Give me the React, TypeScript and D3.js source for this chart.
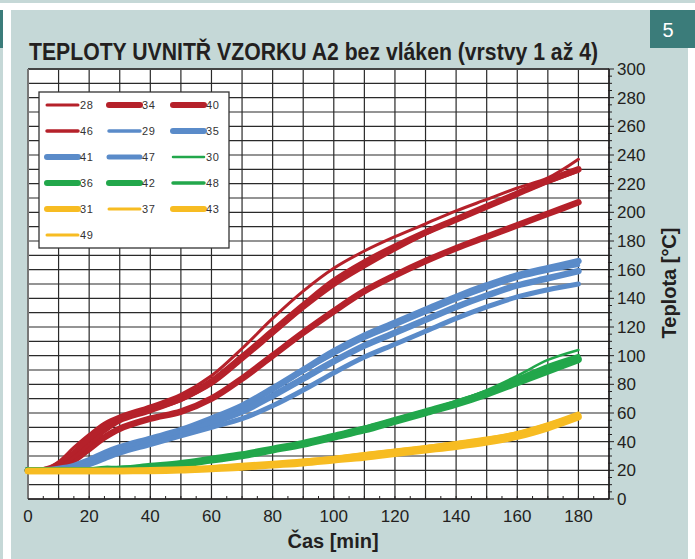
import React from "react";
import * as d3 from "d3";

// ---- data ----
const times = [0, 5, 10, 15, 20, 25, 30, 40, 50, 60, 70, 80, 90, 100, 110, 120, 130, 140, 150, 160, 170, 180];

const s28 = [20, 20, 26, 36, 45, 53, 58, 65, 73, 86, 105, 126, 145, 161, 173, 183, 192, 201, 209, 217, 224, 237];
const s34 = [20, 20, 24, 32, 42, 50, 56, 63, 70, 82, 99, 117, 135, 152, 165, 176, 186, 195, 204, 213, 222, 230];
const s40 = [20, 20, 22, 27, 35, 43, 49, 56, 61, 70, 84, 100, 116, 131, 145, 156, 166, 175, 183, 191, 199, 207];
const s46 = [20, 20, 22, 29, 38, 47, 54, 61, 69, 80, 97, 115, 133, 149, 162, 174, 185, 195, 204, 213, 221, 229];

const s29 = [20, 20, 21, 23, 27, 31, 35, 42, 48, 55, 64, 76, 89, 101, 112, 121, 130, 139, 147, 154, 159, 163];
const s35 = [20, 20, 21, 23, 27, 32, 36, 42, 48, 56, 65, 77, 90, 103, 114, 123, 132, 141, 149, 156, 161, 166];
const s41 = [20, 20, 20, 22, 25, 30, 34, 40, 46, 53, 61, 72, 84, 96, 107, 116, 125, 134, 142, 149, 154, 159];
const s47 = [20, 20, 20, 21, 24, 28, 32, 38, 44, 50, 56, 65, 76, 88, 99, 108, 117, 126, 134, 141, 146, 150];

const s30 = [20, 20, 20, 20, 20, 21, 21, 23, 25, 28, 31, 35, 40, 45, 50, 56, 62, 68, 76, 86, 97, 104];
const s36 = [20, 20, 20, 20, 20, 21, 21, 23, 25, 28, 31, 35, 39, 44, 49, 55, 61, 67, 74, 82, 90, 98];
const s42 = [20, 20, 20, 20, 20, 20, 21, 22, 24, 27, 30, 34, 38, 43, 48, 54, 60, 66, 73, 81, 89, 97];
const s48 = [20, 20, 20, 20, 20, 21, 21, 23, 25, 28, 31, 35, 39, 44, 50, 55, 61, 68, 75, 84, 93, 100];

const s31 = [19.5, 19.5, 19.5, 19.5, 19.5, 19.5, 19.5, 20, 20.5, 21.5, 23, 24.5, 26, 28, 30.5, 33, 35.5, 38, 41, 45, 51, 58];
const s37 = [19.5, 19.5, 19.5, 19.5, 19.5, 19.5, 19.5, 20, 21, 22, 23.5, 25, 27, 29, 31.5, 34, 36.5, 39.5, 42.5, 46.5, 52.5, 60];
const s43 = [19.5, 19.5, 19.5, 19.5, 19.5, 19.5, 19.5, 19.5, 20, 21, 22, 23.5, 25, 27, 29, 31.5, 34, 36.5, 39.5, 43.5, 49.5, 57];
const s49 = [19.5, 19.5, 19.5, 19.5, 19.5, 19.5, 19.5, 20, 20.5, 21.5, 22.5, 24, 25.5, 27.5, 30, 32.5, 35, 37.5, 40.5, 44.5, 50.5, 58.5];

const seriesNames = ["28", "34", "40", "46", "29", "35", "41", "47", "30", "36", "42", "48", "31", "37", "43", "49"];
const seriesValues: Record<string, number[]> = {
  "28": s28, "34": s34, "40": s40, "46": s46,
  "29": s29, "35": s35, "41": s41, "47": s47,
  "30": s30, "36": s36, "42": s42, "48": s48,
  "31": s31, "37": s37, "43": s43, "49": s49,
};

const xTicks = [0, 20, 40, 60, 80, 100, 120, 140, 160, 180];
const yTicks = [0, 20, 40, 60, 80, 100, 120, 140, 160, 180, 200, 220, 240, 260, 280, 300];

// ---- styles ----
const RED = "#b5212a";
const BLUE = "#5a8bc9";
const GREEN = "#22a74b";
const YELLOW = "#f7bc22";
const colorOf: Record<string, string> = {
  "28": RED, "34": RED, "40": RED, "46": RED,
  "29": BLUE, "35": BLUE, "41": BLUE, "47": BLUE,
  "30": GREEN, "36": GREEN, "42": GREEN, "48": GREEN,
  "31": YELLOW, "37": YELLOW, "43": YELLOW, "49": YELLOW,
};
const widthOf: Record<string, number> = {
  "28": 3, "34": 6.5, "40": 6.5, "46": 3.5,
  "29": 3.5, "35": 6.5, "41": 6.5, "47": 5,
  "30": 2.5, "36": 6.5, "42": 6.5, "48": 3.5,
  "31": 6.5, "37": 3, "43": 6.5, "49": 3,
};

const W = 695;
const H = 559;
const PANEL = "#c5d8d7";
const TEAL = "#3b7c7a";
const INK = "#231f20";
const FONT = "'Liberation Sans', Arial, Helvetica, sans-serif";

export default function App() {
  const x = d3.scaleLinear().domain([0, 190]).range([28, 609]);
  const y = d3.scaleLinear().domain([0, 300]).range([499, 69]);
  const line = d3
    .line<number>()
    .x((_, i) => x(times[i]))
    .y((d) => y(d))
    .curve(d3.curveCatmullRom.alpha(0.5));

  const vGrid = d3.range(0, 191, 10);
  const hGrid = d3.range(0, 301, 10);
  const minorX = d3.range(5, 190, 5);
  const minorY = d3.range(0, 301, 5);

  const legX0 = 39, legY0 = 92;
  const colX = [47, 109, 173];
  const rowY = (r: number) => 105 + r * 26;

  return (
    <svg width={W} height={H} style={{ position: "absolute", left: 0, top: 0 }} fontFamily={FONT}>
      <rect x={0} y={0} width={W} height={H} fill="#ffffff" />
      <rect x={0} y={0} width={W} height={3} fill={PANEL} />
      <rect x={0} y={10} width={3} height={38} fill={TEAL} />
      <rect x={0} y={48} width={3} height={H - 48} fill={PANEL} />
      <rect x={11} y={10} width={677} height={H - 10} fill={PANEL} />
      <rect x={650} y={10} width={45} height={38} fill={TEAL} />
      <text x={668} y={37} fill="#ffffff" fontSize={20} textAnchor="middle">5</text>

      <text transform="translate(29,60) scale(1,1.1)" fill={INK} fontSize={21} fontWeight="bold" textLength={569} lengthAdjust="spacingAndGlyphs">
        TEPLOTY UVNITŘ VZORKU A2 bez vláken (vrstvy 1 až 4)
      </text>

      {/* plot area */}
      <rect x={x(0)} y={y(300)} width={x(190) - x(0)} height={y(0) - y(300)} fill="#ffffff" />
      {vGrid.map((v) => (
        <line key={"v" + v} x1={x(v)} x2={x(v)} y1={y(0)} y2={y(300)} stroke="#2a2a2a" strokeWidth={1.2} />
      ))}
      {hGrid.map((v) => (
        <line key={"h" + v} x1={x(0)} x2={x(190)} y1={y(v)} y2={y(v)} stroke="#2a2a2a" strokeWidth={1.2} />
      ))}
      <line x1={x(0)} x2={x(190)} y1={y(300)} y2={y(300)} stroke="#444" strokeWidth={2} />
      <line x1={x(0)} x2={x(0)} y1={y(0)} y2={y(300)} stroke="#777" strokeWidth={2} />

      {/* bottom axis */}
      <line x1={x(0)} x2={x(190)} y1={y(0)} y2={y(0)} stroke={INK} strokeWidth={1.5} />
      {minorX.map((v) => (
        <line key={"mx" + v} x1={x(v)} x2={x(v)} y1={y(0)} y2={y(0) - 3} stroke={INK} strokeWidth={1} />
      ))}
      {xTicks.map((v) => (
        <text key={"xl" + v} x={x(v)} y={522} fontSize={17} fill={INK} textAnchor="middle">{v}</text>
      ))}
      <text x={333} y={548} fontSize={20} fontWeight="bold" fill={INK} textAnchor="middle">Čas [min]</text>

      {/* right axis */}
      <line x1={x(190)} x2={x(190)} y1={y(0)} y2={y(300)} stroke={INK} strokeWidth={1.5} />
      {minorY.map((v) => (
        <line key={"my" + v} x1={x(190) - 1} x2={x(190) + (v % 20 === 0 ? 5 : 3)} y1={y(v)} y2={y(v)} stroke={INK} strokeWidth={1} />
      ))}
      {yTicks.map((v) => (
        <text key={"yl" + v} x={617} y={y(v)} dy="0.36em" fontSize={17} fill={INK}>{v}</text>
      ))}
      <text transform={`translate(676,283) rotate(-90)`} fontSize={20} fontWeight="bold" fill={INK} textAnchor="middle">
        Teplota [°C]
      </text>

      {/* series */}
      {seriesNames.map((n) => (
        <path key={"s" + n} d={line(seriesValues[n]) || ""} fill="none" stroke={colorOf[n]} strokeWidth={widthOf[n]} strokeLinecap="round" strokeLinejoin="round" />
      ))}

      {/* legend */}
      <rect x={legX0} y={legY0} width={190} height={156} fill="#ffffff" stroke="#333" strokeWidth={1.3} />
      {seriesNames.map((n, i) => {
        const c = i % 3;
        const r = Math.floor(i / 3);
        const lx = colX[c];
        const ly = rowY(r);
        return (
          <g key={"l" + n}>
            <line x1={lx} x2={lx + 31} y1={ly} y2={ly} stroke={colorOf[n]} strokeWidth={Math.min(widthOf[n], 6)} strokeLinecap="round" />
            <text x={lx + 33} y={ly} dy="0.36em" fontSize={11} letterSpacing={0.6} fill="#333">{n}</text>
          </g>
        );
      })}
    </svg>
  );
}
